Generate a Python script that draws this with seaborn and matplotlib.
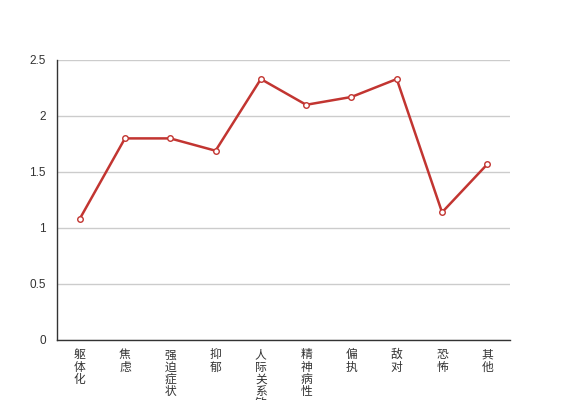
import matplotlib
matplotlib.use('Agg')
import matplotlib.pyplot as plt
import numpy as np
import pandas as pd
import seaborn as sns

categories = ['躯体化', '焦虑', '强迫症状', '抑郁', '人际关系敏感',
              '精神病性', '偏执', '敌对', '恐怖', '其他']
scores = [1.08, 1.80, 1.80, 1.69, 2.33, 2.10, 2.17, 2.33, 1.14, 1.57]
y_ticks = [0, 0.5, 1, 1.5, 2, 2.5]

sns.set_style('white')
plt.rcParams['font.family'] = ['Noto Sans CJK SC', 'DejaVu Sans']

df = pd.DataFrame({'category': categories, 'score': scores})

fig = plt.figure(figsize=(5.67, 4.0), dpi=100)
ax = fig.add_axes([57 / 567, 60 / 400, 453 / 567, 280 / 400])

sns.lineplot(data=df, x='category', y='score', ax=ax, color='#c23531',
             linewidth=1.8, marker='o', markersize=4, markerfacecolor='white',
             markeredgecolor='#c23531', markeredgewidth=1, sort=False)

n = len(categories)
ax.set_xlim(-0.5, n - 0.5)
ax.set_ylim(0, 2.5)
ax.set_xlabel('')
ax.set_ylabel('')

ax.set_yticks(y_ticks)
ax.set_yticklabels(['{:g}'.format(v) for v in y_ticks], fontsize=8.5,
                   color='#333333', family=['Liberation Sans', 'DejaVu Sans'])
ax.yaxis.grid(True, color='#cccccc', linewidth=1)
ax.set_axisbelow(True)

ax.set_xticks(np.arange(n))
ax.set_xticklabels(['\n'.join(c) for c in categories], fontsize=8.5,
                   color='#333333', linespacing=0.92, va='top')
ax.set_xticks(np.arange(n + 1) - 0.5, minor=True)
ax.tick_params(axis='x', which='major', length=0, pad=6)
ax.tick_params(axis='x', which='minor', length=5, color='#333333', width=1, direction='out')
ax.tick_params(axis='y', length=5, color='#333333', width=1, direction='out', pad=3)

for side in ['top', 'right']:
    ax.spines[side].set_visible(False)
for side in ['left', 'bottom']:
    ax.spines[side].set_color('#333333')
    ax.spines[side].set_linewidth(1)

fig.savefig('out.png', dpi=100)
